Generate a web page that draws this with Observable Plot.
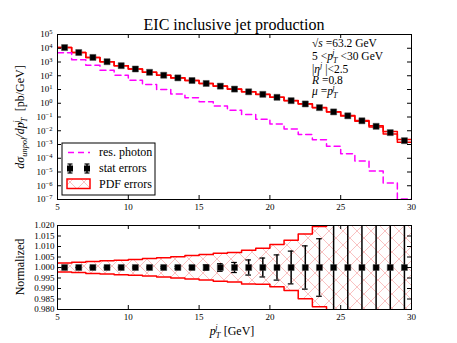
<!DOCTYPE html>
<html><head><meta charset="utf-8">
<script src="https://cdn.jsdelivr.net/npm/d3@7"></script>
<script src="https://cdn.jsdelivr.net/npm/@observablehq/plot@0.6"></script>
<style>
body{margin:0;background:#fff;}
#fig{position:relative;width:457px;height:343px;background:#fff;}
#fig svg{position:absolute;left:0;}
</style></head><body><div id="fig"></div>
<script>
// ---- data ----
const binEdges = [5,6,7,8,9,10,11,12,13,14,15,16,17,18,19,20,21,22,23,24,25,26,27,28,29,30];
const jetXsec = [11200,4900,2150,1050,540,310,178,109,70,45,27.5,17.5,10.7,6.8,4.45,2.7,1.54,0.89,0.48,0.235,0.122,0.053,0.021,0.0073,0.0019];
const photonXsec = [4700,1480,570,250,109,47,23,10,4.7,2.5,1.3,0.64,0.31,0.15,0.07,0.031,0.0135,0.0053,0.0022,0.00076,0.00021,6.3e-5,1.2e-5,1.6e-6,1.1e-7];
const statRel = [0.0001,0.0001,0.0002,0.0002,0.0002,0.0003,0.0003,0.0004,0.0005,0.0008,0.0013,0.0018,0.0024,0.0036,0.0045,0.006,0.0078,0.0103,0.0137,0.025,0.035,0.05,0.07,0.1,0.15];
const pdfUp = [0.0022,0.0025,0.0029,0.0032,0.0035,0.0038,0.0043,0.0046,0.0051,0.0057,0.0062,0.0068,0.0071,0.0082,0.0092,0.0110,0.0130,0.0160,0.0195,0.028,0.04,0.06,0.09,0.22,0.22];
const pdfDown = [0.0021,0.0024,0.0028,0.0031,0.0034,0.0037,0.0041,0.0045,0.0050,0.0055,0.0060,0.0066,0.0069,0.0079,0.0080,0.0092,0.0110,0.0149,0.0187,0.028,0.04,0.06,0.09,0.22,0.22];
const yDecades = [1e-7,1e-6,1e-5,1e-4,1e-3,1e-2,1e-1,1e0,1e1,1e2,1e3,1e4,1e5];
const ratioTicks = [0.980,0.985,0.990,0.995,1.000,1.005,1.010,1.015,1.020];
const xTicks = [5,10,15,20,25,30];
const titleText = "EIC inclusive jet production";
const legendLabels = ["res. photon","stat errors","PDF errors"];

// ---- derived tables ----
const bins = jetXsec.map((v,i)=>({lo:binEdges[i],hi:binEdges[i+1],x:(binEdges[i]+binEdges[i+1])/2,v,ph:photonXsec[i],stat:statRel[i],up:pdfUp[i],dn:pdfDown[i]}));
const steps = bins.map(b=>({...b,xs:b.lo})).concat([{...bins[bins.length-1],xs:binEdges[binEdges.length-1]}]);

const W = 457, ML = 57, MR = 46;
const font = "Liberation Serif, Times New Roman, serif";
const RED = "#ff0000", MAG = "#ff00ff";
const hatchFill = "url(#hatchX)";

// ---- top panel ----
const topH = 215, topMT = 34, topMB = 16, topPH = topH-topMT-topMB, PW = W-ML-MR;
const topSvg = Plot.plot({
  width: W, height: topH, marginLeft: ML, marginRight: MR, marginTop: topMT, marginBottom: topMB,
  style: {fontFamily: font, fontSize: "9px", background: "white", color: "black", overflow: "visible"},
  x: {domain: [5,30]},
  y: {type: "log", domain: [1e-7,1e5]},
  marks: [
    Plot.areaY(steps, {x:"xs", y1:d=>d.v*(1-d.dn), y2:d=>d.v*(1+d.up), curve:"step-after", fill:hatchFill, clip:true}),
    Plot.line(steps, {x:"xs", y:d=>d.v*(1+d.up), curve:"step-after", stroke:RED, strokeWidth:1.5, clip:true}),
    Plot.line(steps, {x:"xs", y:d=>d.v*(1-d.dn), curve:"step-after", stroke:RED, strokeWidth:1.5, clip:true}),
    Plot.line(steps, {x:"xs", y:"ph", curve:"step-after", stroke:MAG, strokeWidth:1.5, strokeDasharray:"6,4", clip:true}),
    Plot.ruleX(bins, {x:"x", y1:d=>d.v*(1-d.stat), y2:d=>d.v*(1+d.stat), stroke:"black", strokeWidth:1.5, clip:true}),
    Plot.dot(bins, {x:"x", y:"v", symbol:"square", r:3.4, fill:"black", stroke:"#444", strokeWidth:0.5, clip:true}),
    Plot.tickY(yDecades, {y:d=>d, insetRight:PW-4, stroke:"black"}),
    Plot.tickY(yDecades, {y:d=>d, insetLeft:PW-4, stroke:"black"}),
    Plot.tickX(xTicks, {x:d=>d, insetTop:topPH-4, stroke:"black"}),
    Plot.tickX(xTicks, {x:d=>d, insetBottom:topPH-4, stroke:"black"}),
    Plot.frame({stroke:"black"}),
    Plot.axisY(yDecades, {tickSize:0, tickPadding:5, label:null, tickFormat:d=>"10^"+Math.round(Math.log10(d))}),
    Plot.axisX(xTicks, {tickSize:0, tickPadding:4, label:null})
  ]
});
topSvg.style.top = "0px";

// ---- bottom panel ----
const botH = 133, botMT = 15, botMB = 34, botPH = botH-botMT-botMB;
const botSvg = Plot.plot({
  width: W, height: botH, marginLeft: ML, marginRight: MR, marginTop: botMT, marginBottom: botMB,
  style: {fontFamily: font, fontSize: "9px", background: "transparent", color: "black", overflow: "visible"},
  x: {domain: [5,30]},
  y: {domain: [0.98,1.02]},
  marks: [
    Plot.areaY(steps, {x:"xs", y1:d=>1-d.dn, y2:d=>1+d.up, curve:"step-after", fill:hatchFill, clip:true}),
    Plot.line(steps, {x:"xs", y:d=>1+d.up, curve:"step-after", stroke:RED, strokeWidth:1.5, clip:true}),
    Plot.line(steps, {x:"xs", y:d=>1-d.dn, curve:"step-after", stroke:RED, strokeWidth:1.5, clip:true}),
    Plot.ruleX(bins, {x:"x", y1:d=>1-d.stat, y2:d=>1+d.stat, stroke:"black", strokeWidth:1.5, clip:true}),
    Plot.ruleY(bins, {y:d=>1+d.stat, x1:d=>d.x-0.2, x2:d=>d.x+0.2, stroke:"black", strokeWidth:1.2, clip:true}),
    Plot.ruleY(bins, {y:d=>1-d.stat, x1:d=>d.x-0.2, x2:d=>d.x+0.2, stroke:"black", strokeWidth:1.2, clip:true}),
    Plot.dot(bins, {x:"x", y:()=>1, symbol:"square", r:3.4, fill:"black", stroke:"#444", strokeWidth:0.5}),
    Plot.tickY(ratioTicks, {y:d=>d, insetRight:PW-4, stroke:"black"}),
    Plot.tickY(ratioTicks, {y:d=>d, insetLeft:PW-4, stroke:"black"}),
    Plot.tickX(xTicks, {x:d=>d, insetTop:botPH-4, stroke:"black"}),
    Plot.tickX(xTicks, {x:d=>d, insetBottom:botPH-4, stroke:"black"}),
    Plot.frame({stroke:"black"}),
    Plot.axisY(ratioTicks, {tickSize:0, tickPadding:3, label:null, tickFormat:d3.format(".3f")}),
    Plot.axisX(xTicks, {tickSize:0, tickPadding:4, label:null})
  ]
});
botSvg.style.top = "210px";

const fig = document.getElementById("fig");
fig.appendChild(topSvg);
fig.appendChild(botSvg);

// hatch pattern (light red cross-hatch)
const defs = d3.select(topSvg).insert("defs", ":first-child");
const pat = defs.append("pattern").attr("id","hatchX").attr("patternUnits","userSpaceOnUse").attr("width",14).attr("height",14);
pat.append("path").attr("d","M0,0L14,14M14,0L0,14M-1,13L1,15M13,-1L15,1M-1,1L1,-1M13,15L15,13").attr("stroke","#f7b3b3").attr("stroke-width",0.8).attr("fill","none");

// superscript decade labels
d3.select(topSvg).selectAll('g[aria-label="y-axis tick label"] text').each(function(){
  const s = this.textContent; const e = s.split("^")[1].replace("-","\u2212");
  const t = d3.select(this); t.text("");
  t.append("tspan").text("10");
  t.append("tspan").attr("dy","-0.45em").attr("font-size","6.5px").text(e);
});

// math-text helper
function mtext(sel, x, y, parts, opts={}) {
  const size = opts.size||12;
  const t = sel.append("text").attr("x",x).attr("y",y).attr("font-family",font)
    .attr("font-size",size).attr("fill","black").attr("text-anchor",opts.anchor||"start");
  if (opts.rotate) t.attr("transform",`rotate(-90,${x},${y})`);
  for (const p of parts) {
    const ts = t.append("tspan").text(p.t);
    if (p.it) ts.attr("font-style","italic");
    if (p.small) ts.attr("font-size",size*0.7);
    if (p.dy) ts.attr("dy",p.dy);
    if (p.dx) ts.attr("dx",p.dx);
  }
  return t;
}
const T = d3.select(topSvg), B = d3.select(botSvg);

// title
T.append("text").attr("x",ML+PW/2).attr("y",30).attr("text-anchor","middle").attr("font-family",font).attr("font-size",16).text(titleText);

// info box
const ix = 312, isz = {size:11.5};
mtext(T, ix, 46.5, [{t:"\u221A"},{t:"s",it:true},{t:" =63.2 GeV"}], isz);
mtext(T, ix, 60, [{t:"5 <"},{t:"p",it:true},{t:"T",it:true,small:true,dy:3},{t:"j",it:true,small:true,dy:-8,dx:-5},{t:" <30 GeV",dy:5,dx:3}], isz);
mtext(T, ix, 73, [{t:"|"},{t:"\u03B7",it:true},{t:"j",it:true,small:true,dy:-5},{t:" |<2.5",dy:5}], isz);
mtext(T, ix, 84, [{t:"R",it:true},{t:" =0.8"}], isz);
mtext(T, ix, 94.5, [{t:"\u03BC",it:true},{t:" ="},{t:"p",it:true},{t:"T",it:true,small:true,dy:3},{t:"j",it:true,small:true,dy:-8,dx:-5}], isz);

// y label top
mtext(T, 24, 117, [{t:"d\u03C3",it:true},{t:"unpol",it:true,small:true,dy:3},{t:"/dp",it:true,dy:-3},{t:"T",it:true,small:true,dy:3},{t:"j",it:true,small:true,dy:-8,dx:-5},{t:"  [pb/GeV]",dy:5,dx:3}], {anchor:"middle", rotate:true});

// legend
const lg = T.append("g");
lg.append("rect").attr("x",62).attr("y",143).attr("width",93).attr("height",52).attr("fill","white").attr("stroke","black").attr("stroke-width",1);
lg.append("line").attr("x1",68).attr("x2",90).attr("y1",152.5).attr("y2",152.5).attr("stroke",MAG).attr("stroke-width",1.5).attr("stroke-dasharray","6,4");
for (const cx of [70,87]) {
  lg.append("line").attr("x1",cx).attr("x2",cx).attr("y1",164).attr("y2",173).attr("stroke","black").attr("stroke-width",1.5);
  lg.append("line").attr("x1",cx-2.5).attr("x2",cx+2.5).attr("y1",164).attr("y2",164).attr("stroke","black").attr("stroke-width",1.2);
  lg.append("line").attr("x1",cx-2.5).attr("x2",cx+2.5).attr("y1",173).attr("y2",173).attr("stroke","black").attr("stroke-width",1.2);
  lg.append("rect").attr("x",cx-3).attr("y",165.5).attr("width",6).attr("height",6).attr("fill","black");
}
lg.append("rect").attr("x",67).attr("y",179).attr("width",23).attr("height",9.5).attr("fill",hatchFill).attr("stroke",RED).attr("stroke-width",1.5);
[156,172,188].forEach((y,i)=>lg.append("text").attr("x",99).attr("y",y).attr("text-anchor","start").attr("font-family",font).attr("font-size",12).text(legendLabels[i]));

// bottom labels
B.append("text").attr("x",24).attr("y",57).attr("transform","rotate(-90,24,57)").attr("text-anchor","middle").attr("font-family",font).attr("font-size",12).text("Normalized");
mtext(B, 232, 125, [{t:"p",it:true},{t:"T",it:true,small:true,dy:3},{t:"j",it:true,small:true,dy:-8,dx:-5},{t:" [GeV]",dy:5,dx:3}], {anchor:"middle"});
</script></body></html>
